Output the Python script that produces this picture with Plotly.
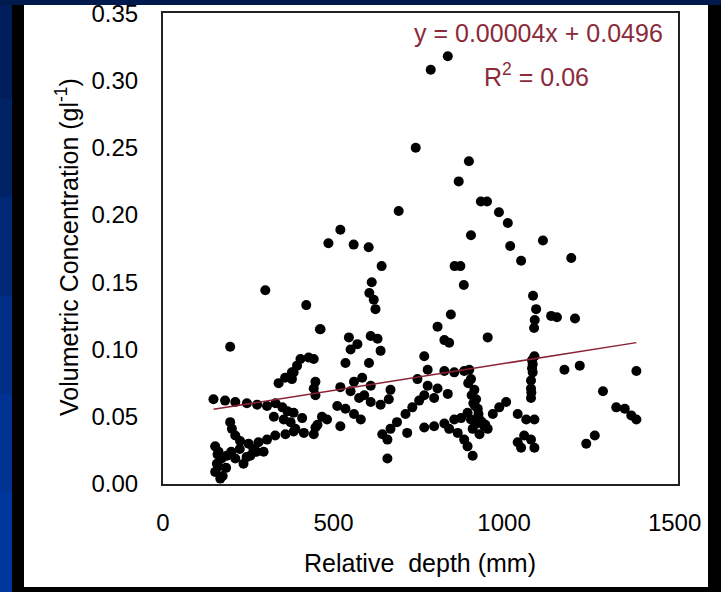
import plotly.graph_objects as go

# relative depth (mm) and volumetric concentration (g/l)
depth = [
    785, 835, 741, 897, 867, 932, 950, 985, 1011, 691,
    520, 485, 559, 603, 903, 1018, 1114, 1197, 1050, 855,
    872, 641, 612, 605, 618, 623, 882, 300, 420, 844,
    1085, 1094, 1090, 1088, 1138, 1155, 1208, 460, 197, 805,
    825, 839, 952,
    148, 182, 212, 246, 276, 305, 339, 358, 378, 325,
    354, 374, 197, 202, 212, 226, 251, 280, 305, 329,
    359, 383, 153, 163, 172, 163, 153, 168, 187, 212,
    236, 256, 275, 295,
    462, 545, 570, 609, 629, 550, 638, 535, 604, 403,
    427, 442, 393, 383, 378, 447, 442, 447, 520, 560,
    584, 609, 550, 511, 535, 560, 580, 520, 481, 609,
    638, 662, 667, 388, 413, 442, 447, 383, 408, 643,
    667, 686, 711, 731, 751, 766, 716, 658, 658, 746,
    466, 453,
    766, 776, 825, 854, 883, 898, 776, 805, 835, 795,
    903, 913, 918, 923, 928, 942, 952, 903, 893, 908,
    928, 766, 795, 825, 854, 874, 839, 864, 967, 986,
    1006, 883, 893, 908, 1040, 1065, 1089, 1040, 1059, 1079,
    1089, 1050, 1089, 1084, 1084, 1079, 1079, 1079,
    1177, 1222, 1388, 1290, 1329, 1354, 1373, 1388, 1241, 1266,
    895, 905, 915, 925, 935, 945, 920, 910,
    158, 160, 175, 185, 200, 225, 245, 265,
    330, 350, 365, 590, 575, 1082, 1082, 1080,
]
conc = [
    0.308, 0.318, 0.250, 0.240, 0.225, 0.210, 0.210, 0.202, 0.194, 0.203,
    0.189, 0.179, 0.178, 0.176, 0.185, 0.177, 0.181, 0.168, 0.166, 0.162,
    0.162, 0.162, 0.150, 0.142, 0.137, 0.130, 0.148, 0.144, 0.133, 0.126,
    0.140, 0.130, 0.122, 0.116, 0.125, 0.124, 0.123, 0.115, 0.102, 0.117,
    0.107, 0.105, 0.109,
    0.063, 0.062, 0.061, 0.060, 0.059, 0.058, 0.075, 0.079, 0.083, 0.050,
    0.048, 0.046, 0.046, 0.041, 0.036, 0.032, 0.030, 0.031, 0.033, 0.036,
    0.037, 0.039, 0.028, 0.024, 0.019, 0.013, 0.009, 0.004, 0.021, 0.019,
    0.015, 0.021, 0.024, 0.024,
    0.115, 0.109, 0.104, 0.110, 0.108, 0.100, 0.099, 0.090, 0.090, 0.093,
    0.094, 0.093, 0.088, 0.083, 0.078, 0.076, 0.071, 0.066, 0.072, 0.076,
    0.079, 0.073, 0.069, 0.058, 0.056, 0.052, 0.048, 0.043, 0.048, 0.061,
    0.059, 0.063, 0.070, 0.041, 0.038, 0.037, 0.042, 0.053, 0.049, 0.037,
    0.041, 0.046, 0.052, 0.057, 0.062, 0.066, 0.038, 0.033, 0.019, 0.078,
    0.050, 0.044,
    0.095, 0.085, 0.084, 0.083, 0.084, 0.085, 0.073, 0.071, 0.067, 0.064,
    0.078, 0.070, 0.063, 0.056, 0.048, 0.043, 0.041, 0.048, 0.053, 0.041,
    0.037, 0.042, 0.043, 0.045, 0.048, 0.049, 0.041, 0.038, 0.052, 0.057,
    0.061, 0.033, 0.028, 0.021, 0.052, 0.048, 0.048, 0.031, 0.036, 0.033,
    0.027, 0.027, 0.095, 0.089, 0.083, 0.077, 0.071, 0.064,
    0.085, 0.088, 0.084, 0.069, 0.057, 0.056, 0.051, 0.048, 0.030, 0.036,
    0.075, 0.066, 0.058, 0.052, 0.046, 0.044, 0.045, 0.060,
    0.015, 0.022, 0.006, 0.012, 0.024, 0.026, 0.020, 0.026,
    0.060, 0.057, 0.054, 0.066, 0.064, 0.092, 0.086, 0.068,
]

# trendline as printed on the chart
slope = 0.00004
intercept = 0.0496
fit_x = [min(depth), max(depth)]
fit_y = [slope * v + intercept for v in fit_x]

y_ticks = [0, 0.05, 0.10, 0.15, 0.20, 0.25, 0.30, 0.35]
x_ticks = [0, 500, 1000, 1500]

FONT = "Liberation Sans, Arial, sans-serif"
W, H = 721, 592
L, R, T, B = 163, 678, 13, 484


def px_x(p):
    return (p - L) / (R - L)


def px_y(p):
    return (B - p) / (B - T)


def rect(x0, y0, x1, y1, color):
    return dict(type="rect", xref="paper", yref="paper",
                x0=px_x(x0), x1=px_x(x1), y0=px_y(y1), y1=px_y(y0),
                fillcolor=color, line_width=0, layer="above")


fig = go.Figure()
fig.add_trace(go.Scatter(
    x=depth, y=conc, mode="markers",
    marker=dict(color="black", size=10, symbol="circle"),
    showlegend=False,
))
fig.add_trace(go.Scatter(
    x=fit_x, y=fit_y, mode="lines",
    line=dict(color="#8b2233", width=1.5),
    showlegend=False,
))

# slide frame around the chart
shapes = []
blues = ["#001d5c", "#002366", "#002a78", "#002f88", "#003393", "#00379e"]
band = H / len(blues)
for i, c in enumerate(blues):
    shapes.append(rect(0, i * band, 12, (i + 1) * band + 1, c))
shapes.append(rect(0, 0, W, 5, "#001a4d"))
shapes.append(rect(12, 5, 24, H, "black"))
shapes.append(rect(708, 5, W, H, "black"))
shapes.append(rect(12, 587, 708, H, "black"))

fig.update_layout(
    width=W, height=H,
    margin=dict(l=L, r=W - R, t=T, b=H - B, autoexpand=False),
    paper_bgcolor="white", plot_bgcolor="white",
    font=dict(family=FONT, size=24, color="black"),
    shapes=shapes,
    annotations=[
        dict(text="y = 0.00004x + 0.0496", xref="paper", yref="paper",
             x=px_x(665), y=px_y(33), xanchor="right", yanchor="middle",
             showarrow=False, font=dict(size=25, color="#8b2a3a")),
        dict(text="R<sup>2</sup> = 0.06", xref="paper", yref="paper",
             x=px_x(536), y=px_y(75), xanchor="center", yanchor="middle",
             showarrow=False, font=dict(size=25, color="#8b2a3a")),
        dict(text="Relative  depth (mm)", xref="paper", yref="paper",
             x=px_x(420), y=px_y(563), xanchor="center", yanchor="middle",
             showarrow=False, font=dict(size=25)),
        dict(text="Volumetric Concentration (gl<sup>-1</sup>)",
             xref="paper", yref="paper", textangle=-90,
             x=px_x(67), y=px_y(247), xanchor="center", yanchor="middle",
             showarrow=False, font=dict(size=25)),
    ],
)
fig.update_xaxes(
    range=[0, 1510], tickvals=x_ticks, showgrid=False, zeroline=False,
    showline=True, linecolor="#222", linewidth=2, mirror=True,
    ticks="outside", ticklen=16, tickcolor="rgba(0,0,0,0)",
    ticklabeloverflow="allow", automargin=False,
)
fig.update_yaxes(
    range=[0, 0.3502], tickvals=y_ticks, tickformat=".2f", showgrid=False,
    zeroline=False, showline=True, linecolor="#222", linewidth=2, mirror=True,
    ticks="outside", ticklen=18, tickcolor="rgba(0,0,0,0)",
    ticklabeloverflow="allow", automargin=False,
)

# drop the page's default body margin so the figure fills the window
fig.write_html(
    "out.html",
    config={"displayModeBar": False},
    post_script="document.body.style.margin='0';",
)
